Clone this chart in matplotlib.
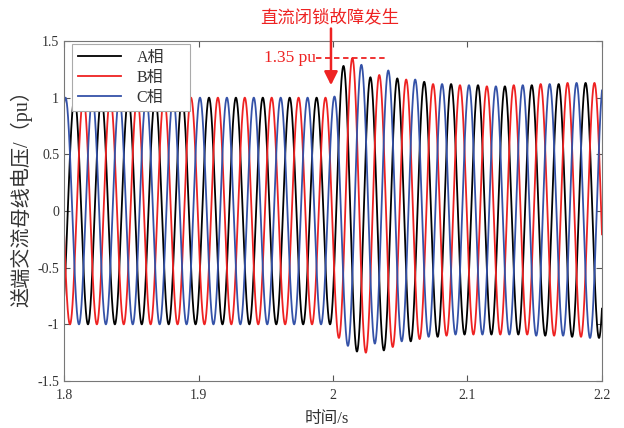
import matplotlib
matplotlib.use("Agg")
import matplotlib.pyplot as plt
import numpy as np
from matplotlib.ticker import FuncFormatter

plt.rcParams["font.family"] = ["Liberation Serif", "Noto Sans CJK SC"]
plt.rcParams["axes.unicode_minus"] = False

# --- data ------------------------------------------------------------------
phase_labels = ["A相", "B相", "C相"]
phase_colors = ["#000000", "#ee2222", "#3552a8"]

freq = 50.0                       # Hz
half_period = 0.5 / freq          # time between successive extrema
t_start, t_end = 1.8, 2.2
t_fault = 2.0

# time of the first extremum (just before 1.8 s) and its sign, per phase
first_ext_time = [1.7978, 1.7944, 1.7911]
first_ext_sign = [-1, 1, -1]
n_pre = 21                        # extrema before the fault, amplitude 1 pu
pre_amp = 1.0

# extrema after the DC blocking fault (pu), in time order, per phase
post_a = [1.28, -1.24, 1.18, -1.23, 1.17, -1.15, 1.14, -1.11, 1.12, -1.09, 1.11,
          -1.09, 1.10, -1.09, 1.11, -1.10, 1.12, -1.11, 1.13, -1.12, 1.13]
post_b = [-1.12, 1.35, -1.25, 1.20, -1.20, 1.16, -1.13, 1.12, -1.10, 1.11, -1.09,
          1.10, -1.09, 1.11, -1.09, 1.12, -1.10, 1.13, -1.11, 1.13, -1.12]
post_c = [1.01, -1.19, 1.29, -1.17, 1.24, -1.15, 1.16, -1.11, 1.12, -1.09, 1.11,
          -1.09, 1.10, -1.09, 1.11, -1.10, 1.12, -1.10, 1.13, -1.12, 1.13]
post_ext = [post_a, post_b, post_c]

x_ticks = [1.8, 1.9, 2.0, 2.1, 2.2]
y_ticks = [-1.5, -1, -0.5, 0, 0.5, 1, 1.5]

peak_label = "1.35 pu"
peak_value = 1.35
fault_text = "直流闭锁故障发生"


def wave(t, t0, extrema):
    """Cosine half-cycles joining successive extrema."""
    extrema = np.asarray(extrema, dtype=float)
    t_ext = t0 + half_period * np.arange(len(extrema))
    k = np.clip(np.searchsorted(t_ext, t, side="right") - 1, 0, len(extrema) - 2)
    e0, e1 = extrema[k], extrema[k + 1]
    frac = (t - t_ext[k]) / half_period
    return (e0 + e1) / 2 + (e0 - e1) / 2 * np.cos(np.pi * frac)


def main():
    t = np.linspace(t_start, t_end, 8001)

    fig = plt.figure(figsize=(6.24, 4.28), dpi=100)
    ax = fig.add_axes([0.1026, 0.1098, 0.8621, 0.7944])

    for t0, sign, post, color, label in zip(first_ext_time, first_ext_sign,
                                            post_ext, phase_colors, phase_labels):
        pre = [sign * pre_amp * (-1) ** i for i in range(n_pre)]
        ax.plot(t, wave(t, t0, pre + post), color=color, lw=1.3, label=label)

    ax.set_xlim(t_start, t_end)
    ax.set_ylim(-1.5, 1.5)
    ax.set_xticks(x_ticks)
    ax.set_yticks(y_ticks)
    fmt = FuncFormatter(lambda v, _: f"{v:g}")
    ax.xaxis.set_major_formatter(fmt)
    ax.yaxis.set_major_formatter(fmt)
    ax.tick_params(direction="in", top=True, right=True, length=4,
                   colors="#555555", labelcolor="#333333", labelsize=10)
    ax.tick_params(axis="x", pad=6)
    for sp in ax.spines.values():
        sp.set_color("#777777")

    ax.set_xlabel("时间/s", fontsize=12, color="#333333")
    ax.xaxis.set_label_coords(0.488, -0.088)
    ax.set_ylabel("送端交流母线电压/（pu）", fontsize=14.5, color="#333333",
                  va="center")
    ax.yaxis.set_label_coords(-0.080, 0.552)

    leg = ax.legend(loc="upper left", bbox_to_anchor=(0.015, 0.991, 0.22, 0.0),
                    mode="expand", fontsize=11.5, handlelength=2.7,
                    handletextpad=1.0, labelspacing=0.25, borderpad=0.35,
                    borderaxespad=0.0, fancybox=False, framealpha=1.0,
                    edgecolor="#aaaaaa")
    leg.get_frame().set_linewidth(0.8)
    for txt in leg.get_texts():
        txt.set_color("#333333")

    red = "#ee2222"
    ax.plot([1.9874, 2.0394], [peak_value, peak_value], ls=(0, (3, 2)),
            color=red, lw=1.3)
    ax.text(1.9870, peak_value, peak_label, color=red, fontsize=12.5,
            ha="right", va="center")
    ax.annotate("", xy=(1.9985, 1.11), xytext=(1.9985, 1.61),
                arrowprops=dict(arrowstyle="-|>", color=red, lw=1.8,
                                mutation_scale=20, shrinkA=0, shrinkB=0),
                annotation_clip=False)
    ax.text(1.9975, 1.70, fault_text, color=red, fontsize=12.5,
            ha="center", va="center")

    fig.savefig("out.png", dpi=100)


if __name__ == "__main__":
    main()
